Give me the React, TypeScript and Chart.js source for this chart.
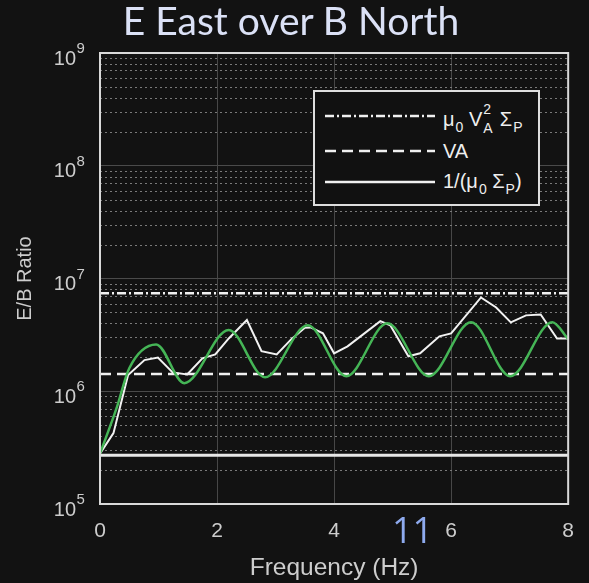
import React, { useEffect, useRef } from 'react';
import { Chart, registerables } from 'chart.js';
Chart.register(...registerables);

// ---------- data ----------
const freqTicks = [0, 2, 4, 6, 8];
const decades = [1e5, 1e6, 1e7, 1e8, 1e9];
const decadeExponents = ['5', '6', '7', '8', '9'];

const greenFreq = [0.0, 0.28, 0.5, 0.96, 1.44, 2.2, 2.82, 3.55, 4.21, 4.91, 5.62, 6.34, 7.01, 7.73, 8.0];
const greenRatio = [2.8e5, 7.0e5, 1.6e6, 2.6e6, 1.18e6, 3.5e6, 1.33e6, 3.85e6, 1.36e6, 4.0e6, 1.36e6, 4.1e6, 1.36e6, 4.1e6, 2.9e6];

const whiteFreq = [0.0, 0.23, 0.48, 0.76, 0.99, 1.24, 1.49, 1.75, 1.97, 2.2, 2.51, 2.76, 3.02, 3.27, 3.5, 3.6, 3.81, 4.0, 4.23, 4.79, 4.96, 5.27, 5.47, 5.8, 6.0, 6.51, 6.77, 7.02, 7.28, 7.53, 7.81, 8.0];
const whiteRatio = [2.8e5, 4.25e5, 1.39e6, 1.89e6, 1.99e6, 1.47e6, 1.41e6, 1.96e6, 2.12e6, 2.94e6, 4.28e6, 2.27e6, 2.12e6, 2.9e6, 3.66e6, 3.68e6, 3.26e6, 2.17e6, 2.5e6, 4.19e6, 3.84e6, 2.04e6, 2.17e6, 3.07e6, 3.26e6, 6.79e6, 5.53e6, 4.08e6, 4.71e6, 4.8e6, 2.94e6, 2.94e6];

const muVA2SigmaP = 7.4e6;
const vaLevel = 1.42e6;
const invMuSigmaP = 2.7e5;

const BG = '#121212';
const AXIS_TEXT = '#cdcdcd';
const GREEN = '#45b556';
const FONT = '"Liberation Sans", Arial, sans-serif';

const decorPlugin = {
  id: 'decor',
  beforeDraw(chart: any) {
    const ctx = chart.ctx;
    ctx.save();
    ctx.fillStyle = BG;
    ctx.fillRect(0, 0, chart.width, chart.height);
    ctx.restore();
  },
  beforeDatasetsDraw(chart: any) {
    const { ctx, chartArea } = chart;
    const y = chart.scales.y;
    ctx.save();
    ctx.strokeStyle = '#7a7a7a';
    ctx.lineWidth = 1;
    ctx.setLineDash([2, 3]);
    for (let d = 0; d < decades.length - 1; d++) {
      for (let m = 2; m <= 9; m++) {
        const py = Math.round(y.getPixelForValue(decades[d] * m)) + 0.5;
        ctx.beginPath();
        ctx.moveTo(chartArea.left, py);
        ctx.lineTo(chartArea.right, py);
        ctx.stroke();
      }
    }
    ctx.restore();
  },
  afterDatasetsDraw(chart: any) {
    const { ctx, chartArea } = chart;
    ctx.save();
    ctx.strokeStyle = '#d9d9d9';
    ctx.lineWidth = 2;
    ctx.strokeRect(chartArea.left, chartArea.top, chartArea.right - chartArea.left, chartArea.bottom - chartArea.top);
    ctx.restore();
  },
  afterDraw(chart: any) {
    const ctx = chart.ctx;
    const y = chart.scales.y;
    ctx.save();
    ctx.fillStyle = AXIS_TEXT;
    decades.forEach((v, i) => {
      const py = y.getPixelForValue(v);
      const xr = 76;
      ctx.font = `20px ${FONT}`;
      ctx.textAlign = 'right';
      ctx.textBaseline = 'middle';
      ctx.fillText('10', xr, py + 6);
      ctx.font = `15px ${FONT}`;
      ctx.textAlign = 'left';
      ctx.fillText(decadeExponents[i], xr + 0.5, py - 4);
    });
    ctx.restore();
  },
};

function pts(xs: number[], ys: number[]) {
  return xs.map((x, i) => ({ x, y: ys[i] }));
}

const subStyle: React.CSSProperties = { fontSize: 14, position: 'relative', top: 6, lineHeight: 0, marginLeft: 1 };

function Legend() {
  const boxLeft = 313;
  const boxTop = 90;
  const rows = [
    { y: 116, dash: '9 3 2 3', label: 'a' },
    { y: 151, dash: '11 6', label: 'b' },
    { y: 182, dash: '', label: 'c' },
  ];
  const textStyle: React.CSSProperties = {
    position: 'absolute',
    left: 443 - boxLeft - 2,
    color: '#eeeeee',
    font: `20px ${FONT}`,
    whiteSpace: 'nowrap',
    lineHeight: '24px',
    height: 24,
  };
  return (
    <div
      style={{
        position: 'absolute',
        left: boxLeft,
        top: boxTop,
        width: 223,
        height: 112,
        border: '2px solid #dedede',
        background: '#111111',
      }}
    >
      <svg width={223} height={112} style={{ position: 'absolute', left: 0, top: 0 }}>
        {rows.map((r) => (
          <line
            key={r.label}
            x1={325 - boxLeft - 2}
            x2={435 - boxLeft - 2}
            y1={r.y - boxTop - 2}
            y2={r.y - boxTop - 2}
            stroke="#f0f0f0"
            strokeWidth={2.5}
            strokeDasharray={r.dash || undefined}
          />
        ))}
      </svg>
      <div style={{ ...textStyle, top: 119 - boxTop - 2 - 12 }}>
        μ<span style={subStyle}>0</span>{' '}V
        <span style={{ position: 'relative', display: 'inline-block', width: 12, height: 10 }}>
          <span style={{ position: 'absolute', left: 1, top: -14, fontSize: 14, lineHeight: '14px' }}>2</span>
          <span style={{ position: 'absolute', left: 1, top: 5, fontSize: 14, lineHeight: '14px' }}>A</span>
        </span>{' '}
        Σ<span style={subStyle}>P</span>
      </div>
      <div style={{ ...textStyle, top: 151 - boxTop - 2 - 12 }}>VA</div>
      <div style={{ ...textStyle, top: 181 - boxTop - 2 - 12 }}>
        1/(μ<span style={subStyle}>0</span> Σ<span style={subStyle}>P</span>)
      </div>
    </div>
  );
}

export default function App() {
  const ref = useRef<HTMLCanvasElement>(null);
  useEffect(() => {
    document.body.style.margin = '0';
    document.body.style.background = BG;
    const chart = new Chart(ref.current as HTMLCanvasElement, {
      type: 'line',
      data: {
        datasets: [
          {
            label: 'model',
            data: pts(greenFreq, greenRatio),
            borderColor: GREEN,
            borderWidth: 2.5,
            pointRadius: 0,
            cubicInterpolationMode: 'monotone',
          },
          {
            label: 'E/B',
            data: pts(whiteFreq, whiteRatio),
            borderColor: '#f2f2f2',
            borderWidth: 2,
            pointRadius: 0,
            tension: 0,
          },
          {
            label: 'mu0 VA^2 SigmaP',
            data: pts([0, 8], [muVA2SigmaP, muVA2SigmaP]),
            borderColor: '#f0f0f0',
            borderWidth: 2.5,
            borderDash: [9, 3, 2, 3],
            pointRadius: 0,
          },
          {
            label: 'VA',
            data: pts([0, 8], [vaLevel, vaLevel]),
            borderColor: '#f0f0f0',
            borderWidth: 2.5,
            borderDash: [11, 6],
            pointRadius: 0,
          },
          {
            label: '1/(mu0 SigmaP)',
            data: pts([0, 8], [invMuSigmaP, invMuSigmaP]),
            borderColor: '#e8e8e8',
            borderWidth: 3,
            pointRadius: 0,
          },
        ],
      },
      options: {
        responsive: false,
        animation: false,
        layout: { padding: { top: 53, right: 16, left: 0, bottom: 0 } },
        plugins: {
          legend: { display: false },
          tooltip: { enabled: false },
        },
        scales: {
          x: {
            type: 'linear',
            min: 0,
            max: 8,
            afterBuildTicks: (s: any) => {
              s.ticks = freqTicks.map((v) => ({ value: v }));
            },
            afterFit: (s: any) => {
              s.height = 79;
            },
            ticks: { color: AXIS_TEXT, font: { size: 21, family: FONT }, padding: 15 },
            grid: { color: '#474747', lineWidth: 1, drawTicks: false },
            border: { display: false },
            title: {
              display: true,
              text: 'Frequency (Hz)',
              color: AXIS_TEXT,
              font: { size: 24.5, family: FONT },
              padding: { top: 0, bottom: 0 },
            },
          },
          y: {
            type: 'logarithmic',
            min: 1e5,
            max: 1e9,
            afterBuildTicks: (s: any) => {
              s.ticks = decades.map((v) => ({ value: v }));
            },
            afterFit: (s: any) => {
              s.width = 100;
            },
            ticks: { display: false },
            grid: { color: '#4a4a4a', lineWidth: 1, drawTicks: false },
            border: { display: false },
            title: {
              display: true,
              text: 'E/B Ratio',
              color: AXIS_TEXT,
              font: { size: 20, family: FONT },
              padding: { top: 13, bottom: 0 },
            },
          },
        },
      },
      plugins: [decorPlugin],
    } as any);
    return () => chart.destroy();
  }, []);

  return (
    <div style={{ position: 'relative', width: 589, height: 583, background: BG, overflow: 'hidden' }}>
      <canvas ref={ref} width={589} height={583} style={{ position: 'absolute', left: 0, top: 0 }} />
      <div
        style={{
          position: 'absolute',
          left: 0,
          top: -4,
          width: 582,
          textAlign: 'center',
          font: `39px Lato, "Open Sans", sans-serif`,
          lineHeight: '48px',
          color: '#dbe1f6',
        }}
      >
        E East over B North
      </div>
      <Legend />
      <div
        style={{
          position: 'absolute',
          left: 392,
          top: 510,
          font: `36px "Open Sans", "Noto Sans", sans-serif`,
          lineHeight: '40px',
          color: '#8eaaee',
        }}
      >
        11
      </div>
    </div>
  );
}
